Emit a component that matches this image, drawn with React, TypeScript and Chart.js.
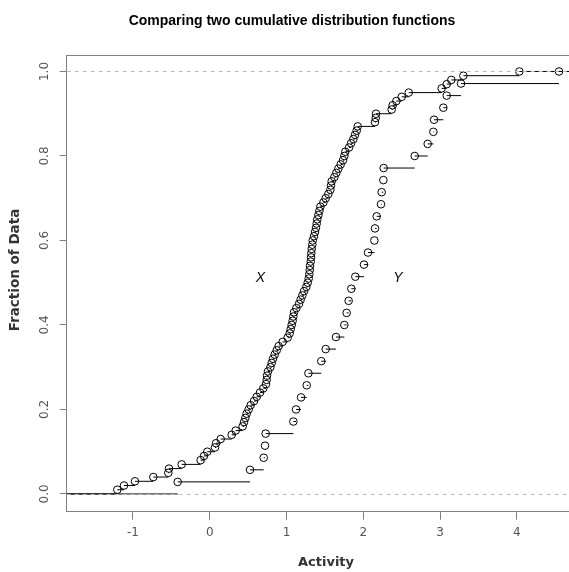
import React, { useEffect, useRef } from 'react';
import { Chart, registerables } from 'chart.js';

Chart.register(...registerables);

// Sorted sample values
const xSample = [
  -1.203, -1.116, -0.973, -0.734, -0.539, -0.530, -0.365, -0.118, -0.074, -0.031,
  0.069, 0.082, 0.143, 0.286, 0.338, 0.429, 0.447, 0.464, 0.481, 0.507,
  0.533, 0.577, 0.612, 0.655, 0.698, 0.733, 0.742, 0.746, 0.759, 0.790,
  0.807, 0.824, 0.846, 0.872, 0.898, 0.950, 1.015, 1.041, 1.054, 1.067,
  1.080, 1.089, 1.098, 1.128, 1.163, 1.184, 1.206, 1.228, 1.258, 1.276,
  1.289, 1.297, 1.302, 1.306, 1.315, 1.319, 1.323, 1.328, 1.336, 1.341,
  1.358, 1.371, 1.384, 1.393, 1.401, 1.415, 1.428, 1.441, 1.480, 1.510,
  1.545, 1.571, 1.579, 1.588, 1.623, 1.649, 1.675, 1.705, 1.736, 1.753,
  1.766, 1.814, 1.840, 1.870, 1.892, 1.914, 1.927, 2.152, 2.161, 2.165,
  2.369, 2.382, 2.430, 2.500, 2.591, 3.020, 3.086, 3.146, 3.303, 4.032,
];

const ySample = [
  -0.417, 0.525, 0.703, 0.720, 0.729, 1.089, 1.124, 1.189, 1.263, 1.285,
  1.453, 1.510, 1.644, 1.753, 1.783, 1.809, 1.844, 1.896, 2.009, 2.061,
  2.144, 2.152, 2.174, 2.230, 2.239, 2.261, 2.265, 2.669, 2.838, 2.912,
  2.921, 3.042, 3.086, 3.272, 4.548,
];

const xTicks = [-1, 0, 1, 2, 3, 4];
const yTicks = [0, 0.2, 0.4, 0.6, 0.8, 1.0];
const yTickLabels = ['0.0', '0.2', '0.4', '0.6', '0.8', '1.0'];
const refLines = [0, 1];
const seriesNames = ['X', 'Y'];
const seriesLabelX = [0.66, 2.45];
const seriesLabelY = [0.51, 0.51];

const X_MIN = -1.862;
const X_MAX = 4.678;
const Y_MIN = -0.042;
const Y_MAX = 1.039;

const TITLE = 'Comparing two cumulative distribution functions';
const X_TITLE = 'Activity';
const Y_TITLE = 'Fraction of Data';

const AXIS_COLOR = '#808080';
const TEXT_COLOR = '#555555';

function ecdfSegments(vals: number[]) {
  const n = vals.length;
  const out: { x: number; y: number | null }[] = [];
  out.push({ x: X_MIN, y: 0 }, { x: vals[0], y: 0 }, { x: vals[0], y: null });
  for (let i = 0; i < n; i++) {
    const f = (i + 1) / n;
    const next = i < n - 1 ? vals[i + 1] : X_MAX;
    out.push({ x: vals[i], y: f }, { x: next, y: f }, { x: next, y: null });
  }
  return out;
}

function ecdfPoints(vals: number[]) {
  const n = vals.length;
  return vals.map((v, i) => ({ x: v, y: (i + 1) / n }));
}

const decorPlugin = {
  id: 'decor',
  beforeDraw(chart: any) {
    const ctx = chart.ctx;
    ctx.save();
    ctx.fillStyle = '#ffffff';
    ctx.fillRect(0, 0, chart.width, chart.height);
    ctx.restore();
  },
  afterDatasetsDraw(chart: any) {
    const ctx = chart.ctx;
    const { left, right, top } = chart.chartArea;
    const xs = chart.scales.x;
    const ys = chart.scales.y;
    ctx.save();
    // dashed reference lines
    ctx.strokeStyle = '#bdbdbd';
    ctx.lineWidth = 1;
    ctx.setLineDash([4, 4]);
    refLines.forEach((v) => {
      const py = Math.round(ys.getPixelForValue(v)) + 0.5;
      ctx.beginPath();
      ctx.moveTo(left, py);
      ctx.lineTo(right, py);
      ctx.stroke();
    });
    ctx.setLineDash([]);
    // top frame line
    ctx.strokeStyle = AXIS_COLOR;
    ctx.beginPath();
    ctx.moveTo(left, Math.round(top) + 0.5);
    ctx.lineTo(right, Math.round(top) + 0.5);
    ctx.stroke();

    // series labels
    ctx.fillStyle = '#000';
    ctx.font = 'italic 14px "Liberation Sans", Arial, sans-serif';
    ctx.textAlign = 'center';
    ctx.textBaseline = 'middle';
    seriesNames.forEach((s, i) => {
      ctx.fillText(s, xs.getPixelForValue(seriesLabelX[i]), ys.getPixelForValue(seriesLabelY[i]));
    });

    // rotated y tick labels
    ctx.fillStyle = TEXT_COLOR;
    ctx.font = '12px "DejaVu Sans", sans-serif';
    yTicks.forEach((v, i) => {
      ctx.save();
      ctx.translate(45, ys.getPixelForValue(v));
      ctx.rotate(-Math.PI / 2);
      ctx.fillText(yTickLabels[i], 0, 0);
      ctx.restore();
    });

    // titles
    ctx.fillStyle = '#000';
    ctx.font = 'bold 14px "Liberation Sans", Arial, sans-serif';
    ctx.fillText(TITLE, 292, 21);

    ctx.fillStyle = '#333';
    ctx.font = 'bold 13px "DejaVu Sans", sans-serif';
    ctx.fillText(X_TITLE, 326, 563);
    ctx.save();
    ctx.translate(15, 270);
    ctx.rotate(-Math.PI / 2);
    ctx.font = 'bold 13.5px "DejaVu Sans", sans-serif';
    ctx.fillText(Y_TITLE, 0, 0);
    ctx.restore();
    ctx.restore();
  },
};

export default function App() {
  const ref = useRef<HTMLCanvasElement>(null);

  useEffect(() => {
    if (!ref.current) return;
    const lineStyle = {
      type: 'line' as const,
      showLine: true,
      borderColor: '#000',
      borderWidth: 1,
      pointRadius: 0,
      pointHoverRadius: 0,
      spanGaps: false,
      fill: false,
    };
    const pointStyle = {
      type: 'scatter' as const,
      showLine: false,
      borderColor: '#000',
      backgroundColor: 'rgba(0,0,0,0)',
      borderWidth: 1,
      pointRadius: 3.8,
      pointHoverRadius: 3.8,
      pointStyle: 'circle',
    };
    const chart = new Chart(ref.current, {
      type: 'scatter',
      data: {
        datasets: [
          { ...lineStyle, label: 'X steps', data: ecdfSegments(xSample) },
          { ...lineStyle, label: 'Y steps', data: ecdfSegments(ySample) },
          { ...pointStyle, label: 'X', data: ecdfPoints(xSample) },
          { ...pointStyle, label: 'Y', data: ecdfPoints(ySample) },
        ] as any,
      },
      options: {
        animation: false,
        responsive: false,
        devicePixelRatio: 1,
        layout: { autoPadding: false, padding: { top: 55, left: 0, right: 0, bottom: 0 } },
        plugins: {
          legend: { display: false },
          tooltip: { enabled: false },
          title: { display: false },
        },
        scales: {
          x: {
            type: 'linear',
            min: X_MIN,
            max: X_MAX,
            afterBuildTicks: (s: any) => {
              s.ticks = xTicks.map((v) => ({ value: v }));
            },
            afterFit: (s: any) => {
              s.height = 60.3;
              s.paddingLeft = 0;
              s.paddingRight = 0;
            },
            grid: {
              drawOnChartArea: false,
              drawTicks: true,
              tickLength: 8,
              color: AXIS_COLOR,
            },
            border: { display: true, color: AXIS_COLOR, width: 1 },
            ticks: {
              color: TEXT_COLOR,
              padding: 6,
              maxRotation: 0,
              autoSkip: false,
              font: { family: '"DejaVu Sans", sans-serif', size: 12 },
              callback: (v: any) => String(v),
            },
          },
          y: {
            type: 'linear',
            min: Y_MIN,
            max: Y_MAX,
            afterBuildTicks: (s: any) => {
              s.ticks = yTicks.map((v) => ({ value: v }));
            },
            afterFit: (s: any) => {
              s.width = 66.7;
              s.paddingTop = 0;
              s.paddingBottom = 0;
            },
            grid: {
              drawOnChartArea: false,
              drawTicks: true,
              tickLength: 7,
              color: AXIS_COLOR,
            },
            border: { display: true, color: AXIS_COLOR, width: 1 },
            ticks: { display: false },
          },
        },
      },
      plugins: [decorPlugin],
    });
    return () => chart.destroy();
  }, []);

  return (
    <div
      style={{
        position: 'fixed',
        left: 0,
        top: 0,
        width: 569,
        height: 572,
        overflow: 'hidden',
        background: '#fff',
      }}
    >
      <canvas ref={ref} width={569} height={572} style={{ display: 'block', width: 569, height: 572 }} />
    </div>
  );
}
